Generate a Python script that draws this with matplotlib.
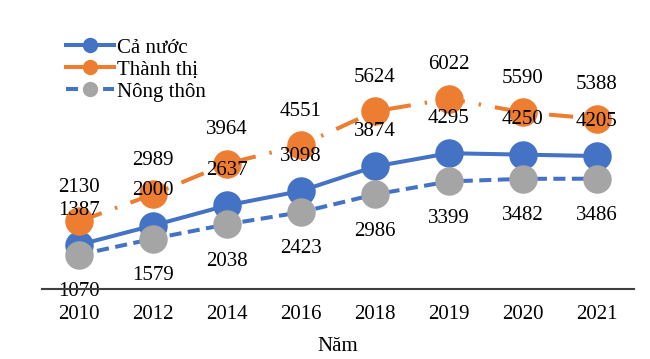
import matplotlib as mpl
mpl.use('Agg')
import matplotlib.pyplot as plt

years = ["2010", "2012", "2014", "2016", "2018", "2019", "2020", "2021"]
ca_nuoc = [1387, 2000, 2637, 3098, 3874, 4295, 4250, 4205]
thanh_thi = [2130, 2989, 3964, 4551, 5624, 6022, 5590, 5388]
nong_thon = [1070, 1579, 2038, 2423, 2986, 3399, 3482, 3486]

mpl.rcParams.update({'font.family': 'Liberation Serif', 'font.size': 15})

blue = '#4472C4'
orange = '#ED7D31'
gray = '#A5A5A5'

fig = plt.figure(figsize=(6.5, 3.59), dpi=100)
ax = fig.add_axes([42/650, 70.5/359, 592/650, 252/359])

x = list(range(len(years)))
ms = 19.5
lw = 2.9
l1, = ax.plot(x, ca_nuoc, color=blue, lw=lw, marker='o', ms=ms, mec=blue, zorder=2)
l2, = ax.plot(x, thanh_thi, color=orange, lw=lw, marker='o', ms=ms, mec=orange,
              linestyle=(0, (6, 3.5, 0.6, 3.5)), zorder=3)
l3, = ax.plot(x, nong_thon, color=blue, lw=lw, marker='o', ms=ms, mfc=gray, mec=gray,
              linestyle=(0, (3, 1.6)), zorder=4)

for i in x:
    ax.annotate(str(thanh_thi[i]), (i, thanh_thi[i]), xytext=(0, 24.5), textcoords='offset points',
                ha='center', va='center', zorder=10)
    ax.annotate(str(ca_nuoc[i]), (i, ca_nuoc[i]), xytext=(0, 25), textcoords='offset points',
                ha='center', va='center', zorder=10)
    ax.annotate(str(nong_thon[i]), (i, nong_thon[i]), xytext=(0, -26.5), textcoords='offset points',
                ha='center', va='center', zorder=10)

ax.set_xlim(-0.5, len(years) - 0.5)
ax.set_ylim(0, 8000)
ax.set_xticks(x)
ax.set_xticklabels(years)
ax.tick_params(axis='x', length=0, pad=12)
ax.set_yticks([])
for s in ['top', 'right', 'left']:
    ax.spines[s].set_visible(False)
ax.spines['bottom'].set_color('#404040')
ax.spines['bottom'].set_linewidth(1.5)
ax.spines['bottom'].set_zorder(11)
ax.set_xlabel("Năm", labelpad=9)

# legend with smaller markers
h1, = ax.plot([], [], color=blue, lw=lw, marker='o', ms=10)
h2, = ax.plot([], [], color=orange, lw=lw, marker='o', ms=10)
h3, = ax.plot([], [], color=blue, lw=lw, marker='o', ms=10, mfc=gray, mec=gray, linestyle=(0, (3, 1.6)))
fig.legend([h1, h2, h3], ["Cả nước", "Thành thị", "Nông thôn"], loc='upper left',
           bbox_to_anchor=(66/650, 1 - 38/359), frameon=False, borderpad=0, borderaxespad=0,
           handlelength=2.3, handletextpad=0.15, labelspacing=0.12)

fig.savefig('out.png', dpi=100)
